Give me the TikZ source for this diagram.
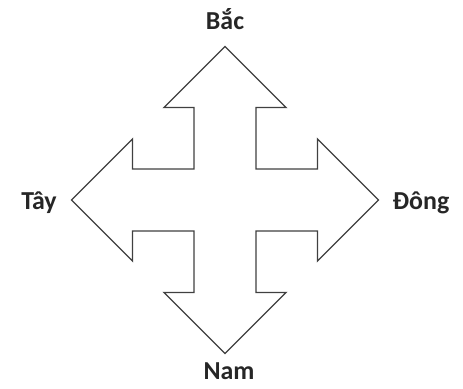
\documentclass[tikz,border=0pt]{standalone}
\usepackage{fontspec}
\setmainfont{Carlito}
\begin{document}
\begin{tikzpicture}[x=1bp,y=-1bp,
  outline/.style={draw=black!75, line width=1.3bp, line join=miter, fill=white},
  lbl/.style={font=\fontsize{26}{30}\selectfont\bfseries, text=black!85, inner sep=0pt, anchor=base}]
\useasboundingbox (0,0) rectangle (463,388);
\draw[outline] (225,46.5) -- (286,107.5) -- (256,107.5) -- (256,169)
  -- (317.5,169) -- (317.5,139) -- (378.5,200) -- (317.5,261) -- (317.5,231)
  -- (256,231) -- (256,292.5) -- (286,292.5) -- (225,353.5) -- (164,292.5)
  -- (194,292.5) -- (194,231) -- (132.5,231) -- (132.5,261) -- (71.5,200)
  -- (132.5,139) -- (132.5,169) -- (194,169) -- (194,107.5) -- (164,107.5) -- cycle;
\node[lbl] (bac) at (225,29.5) {Bắc};
\node[lbl] (tay) at (39,209) {Tây};
\node[lbl] (dong) at (421,209) {Đông};
\node[lbl] (nam) at (229,379) {Nam};
\end{tikzpicture}
\end{document}
